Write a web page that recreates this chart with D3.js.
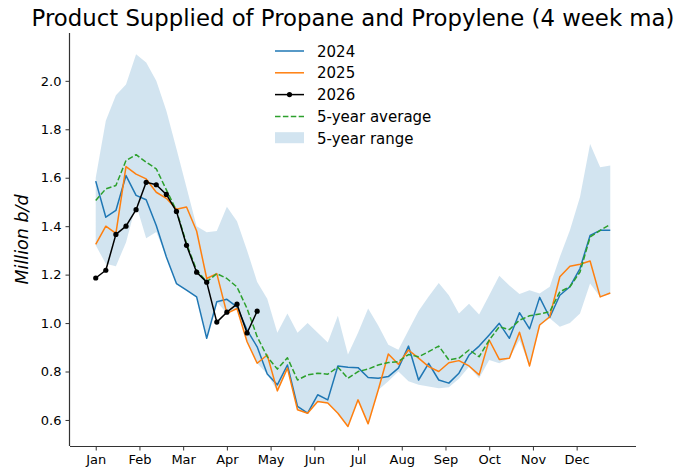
<!DOCTYPE html>
<html>
<head>
<meta charset="utf-8">
<script src="https://cdn.jsdelivr.net/npm/d3@7"></script>
<style>
  html, body { margin: 0; padding: 0; background: #fff; }
  svg { display: block; }
  text { font-family: "DejaVu Sans", sans-serif; fill: #000; }
</style>
</head>
<body>
<svg id="chart" width="693" height="472"></svg>
<script>
// Weekly product supplied, million b/d (4-week moving average), week index 0..51
const monthLabels = ["Jan","Feb","Mar","Apr","May","Jun","Jul","Aug","Sep","Oct","Nov","Dec"];
const yTicks = [0.6, 0.8, 1.0, 1.2, 1.4, 1.6, 1.8, 2.0];

const series2024 = [1.586,1.437,1.465,1.609,1.527,1.509,1.403,1.273,1.163,1.136,1.108,0.937,
  1.088,1.098,1.067,0.971,0.902,0.79,0.745,0.827,0.656,0.628,0.704,0.683,0.823,0.818,
  0.816,0.775,0.772,0.779,0.814,0.905,0.765,0.834,0.765,0.752,0.793,0.868,0.905,0.951,
  0.999,0.937,1.043,0.976,1.106,1.023,1.115,1.15,1.225,1.362,1.383,1.383];

const series2025 = [1.325,1.40,1.37,1.646,1.615,1.595,1.54,1.515,1.47,1.479,1.38,1.184,
  1.204,1.04,1.06,0.923,0.834,0.868,0.72,0.814,0.642,0.628,0.676,0.67,0.628,0.573,
  0.683,0.584,0.724,0.872,0.83,0.889,0.855,0.82,0.80,0.836,0.845,0.823,0.786,0.93,
  0.85,0.855,0.962,0.823,0.992,1.026,1.191,1.235,1.243,1.256,1.108,1.124];

const series2026 = [1.186,1.218,1.366,1.40,1.468,1.581,1.571,1.531,1.461,1.321,1.21,1.169,
  1.004,1.045,1.078,0.959,1.049];

const avg5 = [1.506,1.554,1.568,1.671,1.695,1.664,1.637,1.55,1.465,1.328,1.218,1.17,
  1.204,1.184,1.149,1.06,0.944,0.861,0.81,0.857,0.765,0.786,0.793,0.789,0.818,0.772,
  0.80,0.81,0.827,0.837,0.841,0.87,0.861,0.882,0.905,0.848,0.855,0.889,0.861,0.93,
  0.985,0.973,1.012,1.03,1.037,1.047,1.129,1.15,1.211,1.355,1.383,1.407];

const rangeHigh = [1.60,1.835,1.94,1.985,2.11,2.076,2.0,1.877,1.72,1.56,1.40,1.375,
  1.38,1.48,1.42,1.30,1.17,1.10,0.96,1.04,0.96,1.0,0.96,0.92,1.03,0.87,
  0.96,1.06,0.99,0.91,0.89,0.97,1.05,1.11,1.165,1.115,1.04,1.08,1.035,1.115,
  1.195,1.155,1.12,1.136,1.122,1.15,1.273,1.383,1.52,1.739,1.643,1.65];

const rangeLow = [1.321,1.245,1.235,1.333,1.49,1.35,1.376,1.273,1.163,1.136,1.108,0.937,
  1.088,1.04,1.06,0.923,0.834,0.79,0.72,0.814,0.642,0.628,0.676,0.67,0.628,0.573,
  0.683,0.584,0.724,0.76,0.80,0.76,0.745,0.738,0.731,0.735,0.77,0.82,0.772,0.848,
  0.834,0.855,0.93,0.823,0.99,1.02,0.985,1.0,1.04,1.163,1.108,1.12];

const svg = d3.select("#chart");
const plotLeft = 70, plotRight = 636, plotTop = 33, plotBottom = 446;

const x = d3.scaleLinear().domain([-2.55, 53.55]).range([plotLeft, plotRight]);
const y = d3.scaleLinear().domain([0.4925, 2.1975]).range([plotBottom, plotTop]);

// 5-year range band
const band = rangeHigh.map((h, i) => ({i, h, l: rangeLow[i]}));
svg.append("path")
  .datum(band)
  .attr("fill", "#1f77b4")
  .attr("fill-opacity", 0.2)
  .attr("stroke", "none")
  .attr("d", d3.area().x(d => x(d.i)).y0(d => y(d.l)).y1(d => y(d.h)));

const line = d3.line().x((d, i) => x(i)).y(d => y(d));

function drawLine(values, color, dash) {
  svg.append("path")
    .datum(values)
    .attr("fill", "none")
    .attr("stroke", color)
    .attr("stroke-width", 1.5)
    .attr("stroke-linejoin", "round")
    .attr("stroke-dasharray", dash || null)
    .attr("d", line);
}

drawLine(series2024, "#1f77b4");
drawLine(series2025, "#ff7f0e");
drawLine(avg5, "#2ca02c", "5.5,2.4");
drawLine(series2026, "#000000");
svg.append("g").selectAll("circle")
  .data(series2026)
  .join("circle")
  .attr("cx", (d, i) => x(i))
  .attr("cy", d => y(d))
  .attr("r", 2.6)
  .attr("fill", "#000");

// Axes
const monthPos = monthLabels.map((m, i) => i * 52 / 12);
const xAxis = d3.axisBottom(x)
  .tickValues(monthPos)
  .tickFormat((d, i) => monthLabels[i])
  .tickSize(4.5).tickPadding(4);
const yAxis = d3.axisLeft(y)
  .tickValues(yTicks)
  .tickFormat(d3.format(".1f"))
  .tickSize(4.5).tickPadding(4);

const gx = svg.append("g").attr("transform", `translate(0,${plotBottom})`).call(xAxis);
const gy = svg.append("g").attr("transform", `translate(${plotLeft},0)`).call(yAxis);
gx.select(".domain").attr("d", `M${plotLeft},0.5H${plotRight}`);
gy.select(".domain").attr("d", `M-0.5,${plotTop}V${plotBottom}`);
[gx, gy].forEach(g => {
  g.selectAll(".domain").attr("stroke", "#333").attr("stroke-width", 1.2);
  g.selectAll(".tick line").attr("stroke", "#333").attr("stroke-width", 1);
  g.selectAll(".tick text").attr("font-size", 13).attr("fill", "#222")
    .attr("font-family", "DejaVu Sans, sans-serif");
});

// Title and axis label
svg.append("text")
  .attr("x", 353).attr("y", 26)
  .attr("text-anchor", "middle")
  .attr("font-size", 22.8)
  .text("Product Supplied of Propane and Propylene (4 week ma)");

svg.append("text")
  .attr("transform", "translate(28,239.5) rotate(-90)")
  .attr("text-anchor", "middle")
  .attr("font-size", 17.5)
  .attr("font-style", "italic")
  .text("Million b/d");

// Legend
const legend = svg.append("g");
const items = [
  {label: "2024", color: "#1f77b4", type: "line"},
  {label: "2025", color: "#ff7f0e", type: "line"},
  {label: "2026", color: "#000", type: "marker"},
  {label: "5-year average", color: "#2ca02c", type: "dash"},
  {label: "5-year range", color: "#1f77b4", type: "band"}
];
items.forEach((it, k) => {
  const cy = 51 + k * 21.8;
  if (it.type === "band") {
    legend.append("rect").attr("x", 275).attr("y", cy - 6).attr("width", 29).attr("height", 11)
      .attr("fill", it.color).attr("fill-opacity", 0.2);
  } else {
    legend.append("line").attr("x1", 275).attr("x2", 304).attr("y1", cy).attr("y2", cy)
      .attr("stroke", it.color).attr("stroke-width", 1.5)
      .attr("stroke-dasharray", it.type === "dash" ? "5.5,2.4" : null);
    if (it.type === "marker") {
      legend.append("circle").attr("cx", 289.5).attr("cy", cy).attr("r", 2.6).attr("fill", it.color);
    }
  }
  legend.append("text").attr("x", 317).attr("y", cy + 5.5)
    .attr("font-size", 15).text(it.label);
});
</script>
</body>
</html>
